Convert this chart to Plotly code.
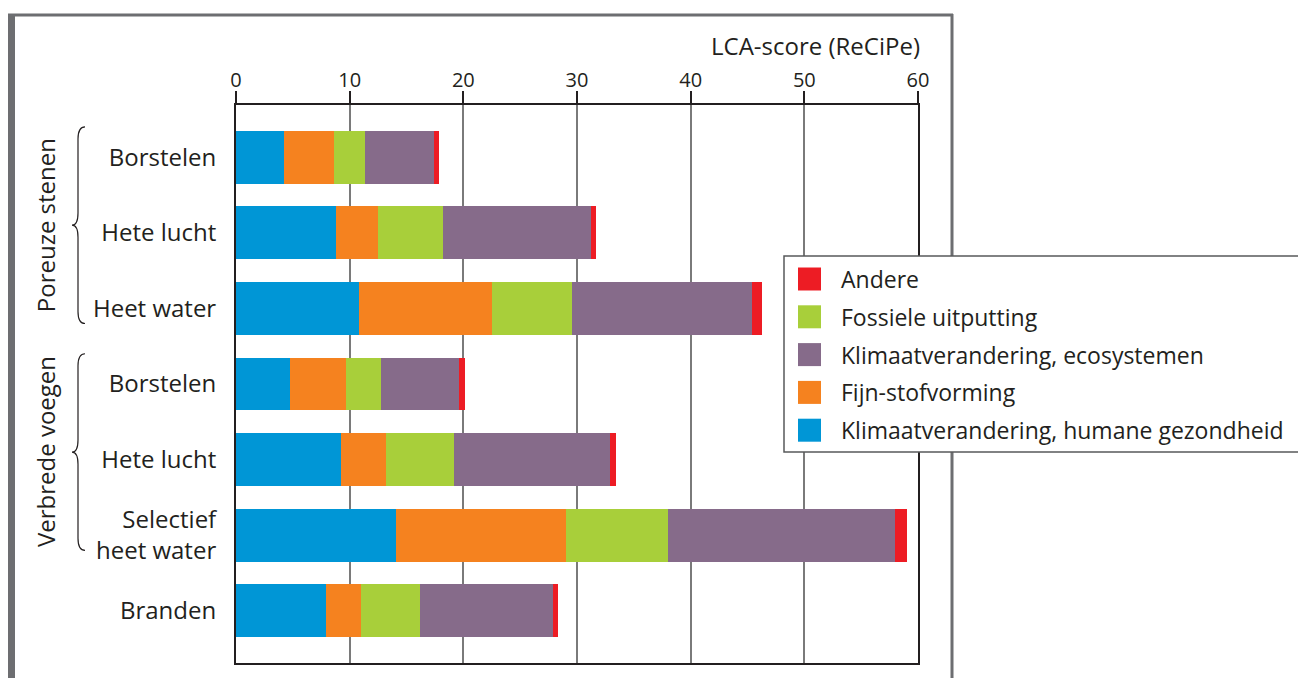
import plotly.graph_objects as go

# ---------------------------------------------------------------------------
# Data
# ---------------------------------------------------------------------------
CATEGORIES = ["Borstelen", "Hete lucht", "Heet water",
              "Borstelen", "Hete lucht", "Selectief<br>heet water", "Branden"]

HUMANE      = [4.18, 8.77, 10.79, 4.71, 9.21, 14.05, 7.89]
FIJNSTOF    = [4.41, 3.70, 11.71, 4.94, 3.96, 14.98, 3.08]
FOSSIEL     = [2.73, 5.72, 7.06, 3.08, 5.99, 8.99, 5.20]
ECOSYSTEMEN = [6.08, 13.04, 15.84, 6.87, 13.74, 19.98, 11.72]
ANDERE      = [0.44, 0.44, 0.90, 0.53, 0.54, 1.07, 0.44]

X_TICKS = [0, 10, 20, 30, 40, 50, 60]
GROUPS = [("Poreuze stenen", 0, 2), ("Verbrede voegen", 3, 5)]

# ---------------------------------------------------------------------------
# Colours
# ---------------------------------------------------------------------------
BLUE   = "#0096d6"
ORANGE = "#f5821f"
GREEN  = "#a8cf3a"
PURPLE = "#866b8a"
RED    = "#ed1c24"
INK    = "#231f20"
FRAME  = "#6d6e71"
FONT   = "Open Sans"

# stacking order (left to right)
SERIES = [
    ("Klimaatverandering, humane gezondheid", HUMANE, BLUE),
    ("Fijn-stofvorming", FIJNSTOF, ORANGE),
    ("Fossiele uitputting", FOSSIEL, GREEN),
    ("Klimaatverandering, ecosystemen", ECOSYSTEMEN, PURPLE),
    ("Andere", ANDERE, RED),
]
# legend order (top to bottom)
LEGEND_ORDER = ["Andere", "Fossiele uitputting", "Klimaatverandering, ecosystemen",
                "Fijn-stofvorming", "Klimaatverandering, humane gezondheid"]

# the page adds an 8px body margin, so the figure is a little smaller
OFF = 8
W, H = 1306 - OFF, 678 - OFF
L, T = 236 - OFF, 105 - OFF
R = W - (918 - OFF)
B = H - (663 - OFF)
PW, PH = W - L - R, H - T - B


def px(x):
    # page pixel -> paper x
    return (x - OFF - L) / PW


def py(y):
    # page pixel -> paper y
    return (H - B - (y - OFF)) / PH


ypos = list(range(len(CATEGORIES)))

fig = go.Figure()
for name, vals, col in SERIES:
    fig.add_trace(go.Bar(
        x=vals, y=ypos, orientation="h", name=name,
        marker=dict(color=col, line=dict(width=0)),
        width=0.70, showlegend=False, hoverinfo="x+name",
    ))

shapes = []
annotations = []

# grey frame around the figure
shapes.append(dict(type="line", xref="paper", yref="paper",
                   x0=px(11), x1=px(11), y0=py(14), y1=py(700),
                   line=dict(color=FRAME, width=8)))
shapes.append(dict(type="line", xref="paper", yref="paper",
                   x0=px(7), x1=px(953), y0=py(15), y1=py(15),
                   line=dict(color=FRAME, width=3)))
shapes.append(dict(type="line", xref="paper", yref="paper",
                   x0=px(952), x1=px(952), y0=py(14), y1=py(700),
                   line=dict(color=FRAME, width=3)))

# group braces and labels
tip, spine, end = px(72), px(78), px(85)
r = 0.16
for label, i0, i1 in GROUPS:
    top, bot = i0 - 0.4, i1 + 0.2
    mid = (top + bot) / 2
    path = (f"M{end},{top} Q{spine},{top} {spine},{top + r} "
            f"L{spine},{mid - r} Q{spine},{mid} {tip},{mid} "
            f"Q{spine},{mid} {spine},{mid + r} "
            f"L{spine},{bot - r} Q{spine},{bot} {end},{bot}")
    shapes.append(dict(type="path", xref="paper", yref="y", path=path,
                       line=dict(color=INK, width=1.2)))
    annotations.append(dict(text=label, xref="paper", yref="y", x=px(45), y=mid,
                            textangle=-90, showarrow=False,
                            font=dict(family=FONT, size=24, color=INK),
                            xanchor="center", yanchor="middle"))

# axis title
annotations.append(dict(text="LCA-score (ReCiPe)", xref="paper", yref="paper",
                        x=px(922), y=py(46), xanchor="right", yanchor="middle",
                        showarrow=False, font=dict(family=FONT, size=24, color=INK)))

# legend box drawn by hand so the swatches match the original size
colour_of = {name: col for name, _, col in SERIES}
shapes.append(dict(type="rect", xref="paper", yref="paper", layer="above",
                   x0=px(784), x1=px(1330), y0=py(256), y1=py(452),
                   fillcolor="white", line=dict(color="#58595b", width=1.5)))
for k, name in enumerate(LEGEND_ORDER):
    yc = 279 + k * 37.8
    shapes.append(dict(type="rect", xref="paper", yref="paper", layer="above",
                       x0=px(798), x1=px(821), y0=py(yc - 11.5), y1=py(yc + 11.5),
                       fillcolor=colour_of[name], line=dict(width=0)))
    annotations.append(dict(text=name, xref="paper", yref="paper",
                            x=px(839), y=py(yc), xanchor="left", yanchor="middle",
                            showarrow=False, font=dict(family=FONT, size=23, color=INK)))

fig.update_layout(
    width=W, height=H,
    margin=dict(l=L, r=R, t=T, b=B, autoexpand=False),
    barmode="stack", bargap=0.3,
    plot_bgcolor="white", paper_bgcolor="white",
    font=dict(family=FONT, color=INK),
    shapes=shapes, annotations=annotations,
    showlegend=False,
)
fig.update_xaxes(
    side="top", range=[0, 60], tickvals=X_TICKS,
    ticks="outside", ticklen=12, tickwidth=1.5, tickcolor=INK,
    ticklabelstandoff=-4,
    tickfont=dict(family=FONT, size=20, color=INK),
    showline=True, linecolor=INK, linewidth=2, mirror=True,
    showgrid=True, gridcolor="#7a7a7a", gridwidth=1.5, zeroline=False,
)
fig.update_yaxes(
    range=[len(CATEGORIES) - 1 + 0.69, -0.69],
    tickvals=ypos, ticktext=CATEGORIES, ticks="",
    ticklabelstandoff=13,
    tickfont=dict(family=FONT, size=24, color=INK),
    showline=True, linecolor=INK, linewidth=2, mirror=True,
    showgrid=False, zeroline=False,
)

fig.write_html("out.html")
